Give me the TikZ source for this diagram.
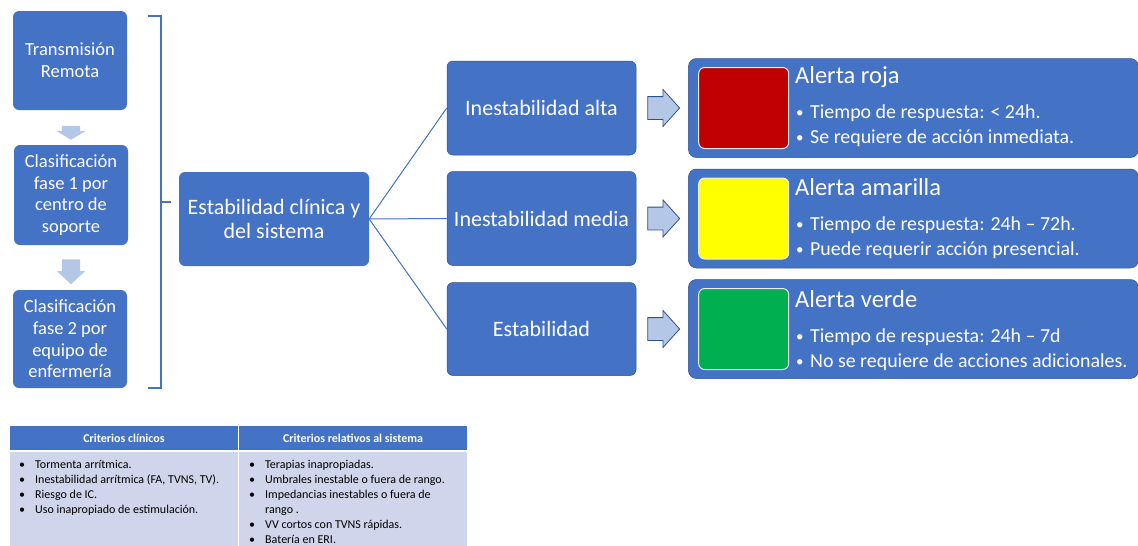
\documentclass[tikz,border=0pt]{standalone}
\usepackage{fontspec}
\setmainfont{Carlito}
\usetikzlibrary{shapes.arrows, positioning}
\definecolor{officeblue}{HTML}{4472C4}
\definecolor{darkblue}{HTML}{2F528F}
\definecolor{paleblue}{HTML}{B4C7E7}
\definecolor{tablebody}{HTML}{CFD5EA}
\definecolor{alertred}{HTML}{C00000}
\definecolor{alertyellow}{HTML}{FFFF00}
\definecolor{alertgreen}{HTML}{00B050}
\newcommand{\smallbullet}{\makebox[14pt][l]{\raisebox{0.5pt}{\fontsize{15}{15}\selectfont •}}}
\tikzset{
	stepbox/.style={rectangle, rounded corners=6pt, fill=officeblue,
		text=white, minimum width=114pt, minimum height=99pt, align=center,
		inner sep=2pt, font=\fontsize{18.5}{21.7}\selectfont},
	hubbox/.style={rectangle, rounded corners=6pt, fill=officeblue,
		text=white, minimum width=190pt, minimum height=94pt, align=center,
		inner sep=2pt, font=\fontsize{22}{24.5}\selectfont},
	levelbox/.style={rectangle, rounded corners=6pt, fill=officeblue,
		draw=darkblue, line width=0.5pt, text=white, minimum width=189pt,
		minimum height=94pt, font=\fontsize{22}{26}\selectfont},
	alertbox/.style={rectangle, rounded corners=8pt, fill=officeblue,
		draw=darkblue, line width=0.5pt, minimum width=450pt,
		minimum height=99pt},
	swatch/.style={rectangle, rounded corners=6pt, draw=white!85!gray,
		line width=1pt, minimum width=90pt, minimum height=81pt},
	alerttitle/.style={anchor=base west, inner sep=0pt, text=white,
		font=\fontsize{24.5}{28}\selectfont},
	alertitem/.style={anchor=base west, inner sep=0pt, text=white,
		font=\fontsize{19.9}{23}\selectfont},
	downarrow/.style={single arrow, rotate=-90, fill=paleblue,
		inner xsep=0pt, inner ysep=9pt, single arrow head extend=5pt},
	rightarrow/.style={single arrow, fill=paleblue, draw=darkblue,
		line width=0.8pt, minimum height=32pt, inner xsep=0pt,
		inner ysep=11pt, single arrow head extend=7pt,
		single arrow tip angle=96},
	myline/.style={draw=officeblue, line width=1pt},
	hdcell/.style={rectangle, fill=officeblue, draw=white, line width=1pt,
		minimum width=229pt, minimum height=25pt, text=white, anchor=north west,
		font=\fontsize{12}{15}\selectfont\bfseries},
	bdcell/.style={rectangle, fill=tablebody, draw=white, line width=1pt,
		minimum width=229pt, minimum height=95pt, anchor=north west},
	cellitem/.style={anchor=base west, inner sep=0pt,
		font=\fontsize{12}{15}\selectfont}
}

\begin{document}
\begin{tikzpicture}[x=1pt, y=-1pt]
	\useasboundingbox (0,0) rectangle (1138,546);
	
	%% ---- Left column: process steps ----
	\node[stepbox] (stA) at (70,60.5) {Transmisión\\Remota};
	\node[downarrow, minimum height=14pt, single arrow tip angle=118]
	(dnA) at (71,130) {};
	\node[stepbox, minimum height=100pt] (stB) at (71,195) {Clasificación\\fase 1 por\\centro de\\soporte};
	\node[downarrow, minimum height=25pt, single arrow tip angle=94]
	(dnB) at (71,267.5) {};
	\node[stepbox, minimum height=98pt] (stC) at (70,339) {Clasificación\\fase 2 por\\equipo de\\enfermería};
	
	%% ---- Bracket ----
	\coordinate (brTop) at (148,16);
	\coordinate (brMid) at (161,202);
	\coordinate (brBot) at (148,388);
	\coordinate (brTip) at (171,202);
	\draw[myline, line width=1.2pt] (brTop) -| (brMid) |- (brBot);
	\draw[myline, line width=1.2pt] (brMid) -- (brTip);
	
	%% ---- Hub and stability levels ----
	\node[hubbox] (hub) at (274,219) {Estabilidad clínica y\\del sistema};
	\node[levelbox] (lvA) at (541.5,108) {Inestabilidad alta};
	\node[levelbox] (lvB) at (541.5,218.5) {Inestabilidad media};
	\node[levelbox, minimum height=93pt] (lvC) at (541.5,329) {Estabilidad};
	
	\foreach \lv in {lvA,lvB,lvC}{
		\draw[myline] (hub.east) -- (\lv.west);
	}
	
	%% ---- Arrows to alerts ----
	\node[rightarrow, right=11pt of lvA] (arA) {};
	\node[rightarrow, right=11pt of lvB] (arB) {};
	\node[rightarrow, right=11pt of lvC] (arC) {};
	
	%% ---- Alert panels ----
	\node[alertbox, right=8pt of arA] (pRed) {};
	\node[alertbox, right=8pt of arB] (pYellow) {};
	\node[alertbox, right=8pt of arC] (pGreen) {};
	
	\node[swatch, fill=alertred, right=10pt of pRed.west] (swRed) {};
	\node[swatch, fill=alertyellow, right=10pt of pYellow.west] (swYellow) {};
	\node[swatch, fill=alertgreen, right=10pt of pGreen.west] (swGreen) {};
	
	\node[alerttitle] (tiRed) at (795,83) {Alerta roja};
	\node[alertitem] (itRedA) at (796,118) {\smallbullet Tiempo de respuesta: < 24h.};
	\node[alertitem] (itRedB) at (796,143) {\smallbullet Se requiere de acción inmediata.};
	
	\node[alerttitle] (tiYellow) at (795,195) {Alerta amarilla};
	\node[alertitem] (itYellowA) at (796,230) {\smallbullet Tiempo de respuesta: 24h – 72h.};
	\node[alertitem] (itYellowB) at (796,255) {\smallbullet Puede requerir acción presencial.};
	
	\node[alerttitle] (tiGreen) at (795,307) {Alerta verde};
	\node[alertitem] (itGreenA) at (796,342) {\smallbullet Tiempo de respuesta: 24h – 7d};
	\node[alertitem] (itGreenB) at (796,367) {\smallbullet No se requiere de acciones adicionales.};
	
	%% ---- Criteria table ----
	\node[hdcell] (hdA) at (9,425) {Criterios clínicos};
	\node[hdcell] (hdB) at (238,425) {Criterios relativos al sistema};
	\node[bdcell] (bdA) at (9,451) {};
	\node[bdcell] (bdB) at (238,451) {};
	
	\foreach \t [count=\i] in {Tormenta arrítmica.,
		{Inestabilidad arrítmica (FA, TVNS, TV).},
		Riesgo de IC.,
		Uso inapropiado de estimulación.}{
		\node[cellitem] (ciA\i) at (19,{468+15*(\i-1)}) {\makebox[16pt][l]{•}\t};
	}
	\foreach \b/\t [count=\i] in {•/Terapias inapropiadas.,
		•/Umbrales inestable o fuera de rango.,
		•/Impedancias inestables o fuera de,
		{}/rango .,
		•/VV cortos con TVNS rápidas.,
		•/Batería en ERI.}{
		\node[cellitem] (ciB\i) at (249,{468+15*(\i-1)}) {\makebox[16pt][l]{\b}\t};
	}
	
\end{tikzpicture}
\end{document}
